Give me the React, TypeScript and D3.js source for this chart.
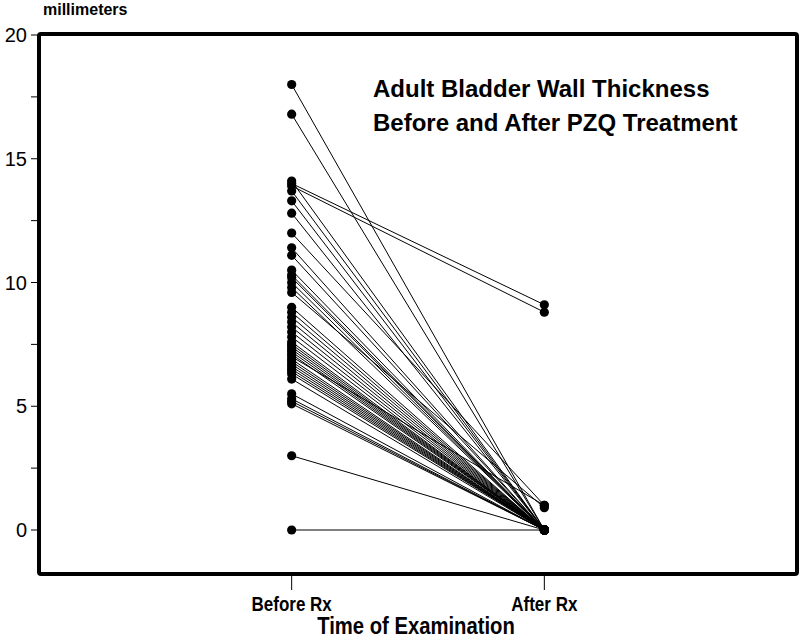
import React from "react";
import { scaleLinear, scalePoint, range } from "d3";

const width = 800;
const height = 640;

// time points on the x axis
const times = ["Before Rx", "After Rx"];

// bladder wall thickness (mm), one entry per adult, before and after PZQ
const before = [
	18.0, 16.8, 14.1, 14.0, 13.9, 13.7, 13.3, 12.8, 12.0, 11.4, 11.1, 10.5,
	10.3, 10.2, 10.0, 9.8, 9.6, 9.0, 8.8, 8.6, 8.4, 8.2, 8.0, 7.8, 7.6, 7.5,
	7.4, 7.3, 7.2, 7.1, 7.0, 6.9, 6.8, 6.7, 6.6, 6.5, 6.4, 6.3, 6.1, 5.5, 5.3,
	5.2, 5.1, 3.0, 0.0,
];
const after = [
	0, 0, 0, 9.1, 8.8, 0, 0, 0, 1.0, 0, 0, 0, 0, 0, 0, 0, 0.9, 0, 0, 0, 0, 0,
	0, 0, 0, 0, 0, 0, 0, 0, 1.0, 0, 0, 0, 0, 0, 0, 0, 0, 0, 0, 0, 0, 0, 0,
];

const yTicks = [0, 5, 10, 15, 20];

const title = ["Adult Bladder Wall Thickness", "Before and After PZQ Treatment"];

const frame = { left: 39, right: 797, top: 34, bottom: 574 };

const App = () => {
	const x = scalePoint<string>()
		.domain(times)
		.range([frame.left, frame.right])
		.padding(1);

	const y = scaleLinear().domain([0, 20]).range([530, 35]);

	const minorTicks = range(0, 20.01, 2.5);
	const sans = "'Liberation Sans', Arial, sans-serif";

	return (
		<svg
			width={width}
			height={height}
			style={{ position: "absolute", left: 0, top: 0, background: "#fff" }}
		>
			{/* y unit label */}
			<text x={43} y={15} fontFamily={sans} fontWeight="bold" fontSize={16}>
				millimeters
			</text>

			{/* y ticks */}
			{minorTicks.map((t) => (
				<line key={"m" + t} x1={31} x2={frame.left} y1={y(t)} y2={y(t)} stroke="#000" strokeWidth={1} />
			))}
			{yTicks.map((t) => (
				<text
					key={t}
					x={27}
					y={y(t)}
					dy="0.36em"
					textAnchor="end"
					fontFamily={sans}
					fontSize={20}
				>
					{t}
				</text>
			))}

			{/* lines joining each patient's two measurements */}
			{before.map((b, i) => (
				<line
					key={"l" + i}
					x1={x(times[0])}
					y1={y(b)}
					x2={x(times[1])}
					y2={y(after[i])}
					stroke="#000"
					strokeWidth={1}
				/>
			))}

			{/* points */}
			{before.map((b, i) => (
				<g key={"p" + i}>
					<circle cx={x(times[0])} cy={y(b)} r={4.6} fill="#000" />
					<circle cx={x(times[1])} cy={y(after[i])} r={4.6} fill="#000" />
				</g>
			))}

			{/* title */}
			{title.map((t, i) => (
				<text
					key={t}
					x={373}
					y={97 + i * 34}
					fontFamily={sans}
					fontWeight="bold"
					fontSize={24}
				>
					{t}
				</text>
			))}

			{/* frame */}
			<rect
				x={frame.left}
				y={frame.top}
				width={frame.right - frame.left}
				height={frame.bottom - frame.top}
				fill="none"
				stroke="#000"
				strokeWidth={4}
				rx={2}
			/>

			{/* x ticks & labels (condensed look) */}
			{times.map((t) => (
				<g key={t} transform={`translate(${x(t)},0)`}>
					<line y1={frame.bottom + 2} y2={590} stroke="#000" strokeWidth={1} />
					<text
						transform="translate(0,611) scale(0.85,1)"
						textAnchor="middle"
						fontFamily={sans}
						fontWeight="bold"
						fontSize={20}
					>
						{t}
					</text>
				</g>
			))}
			<text
				transform="translate(416,634) scale(0.88,1)"
				textAnchor="middle"
				fontFamily={sans}
				fontWeight="bold"
				fontSize={23}
			>
				Time of Examination
			</text>
		</svg>
	);
};

export default App;
